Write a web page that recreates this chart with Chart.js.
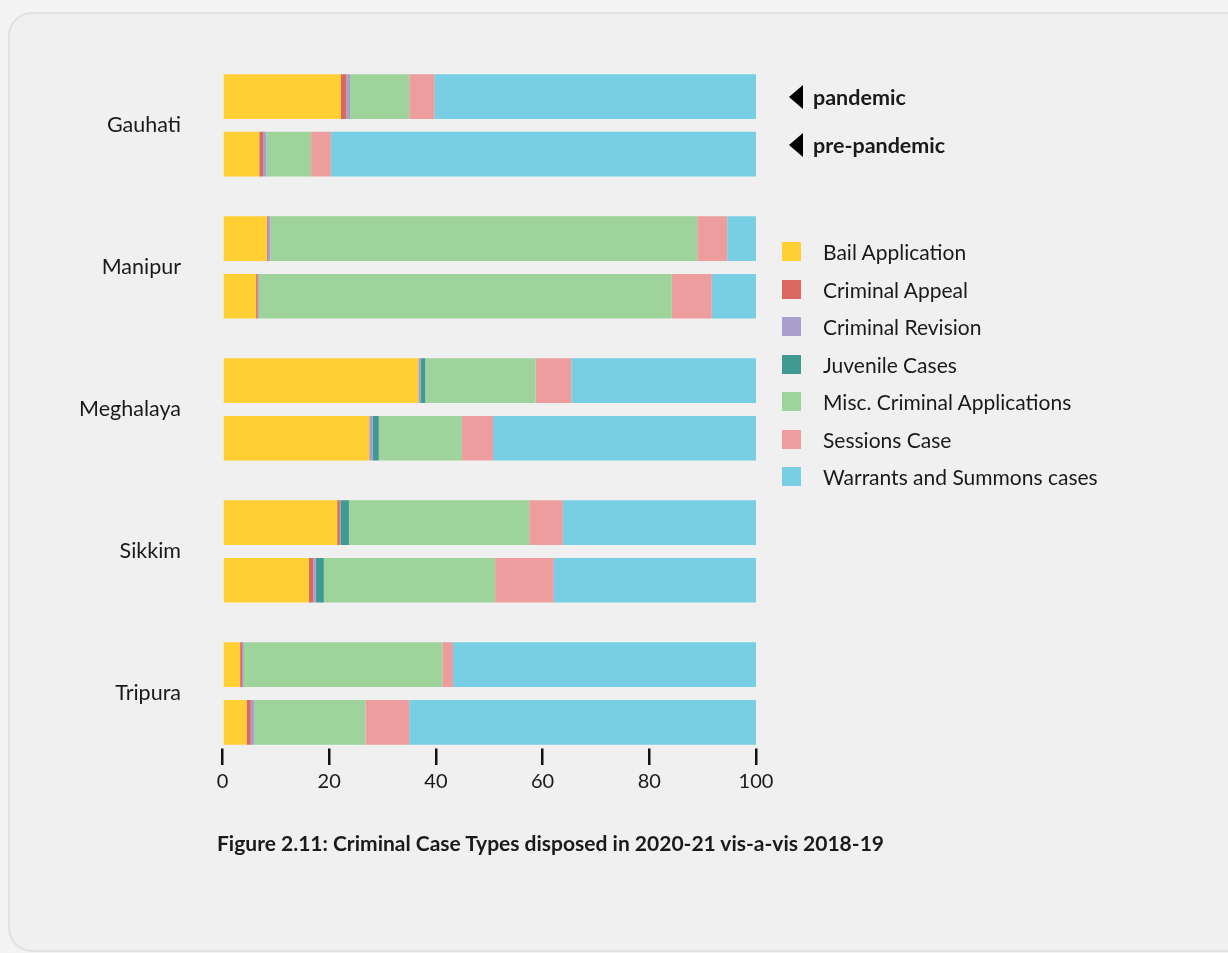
<!DOCTYPE html>
<html>
<head>
<meta charset="utf-8">
<script src="https://cdn.jsdelivr.net/npm/chart.js@4.4.1/dist/chart.umd.min.js"></script>
<style>
  html, body { margin: 0; padding: 0; background: #f4f4f4; font-family: 'Lato', sans-serif; color: #1a1a1a; }
  #wrap { position: relative; width: 1228px; height: 953px; overflow: hidden; }
  #panel { position: absolute; left: 8px; top: 12px; width: 1240px; height: 936px; border: 2px solid #e1e1e1; border-radius: 24px; background: #f0f0f0; }
  #chart1 { position: absolute; left: 0; top: 0; }
  .mark { position: absolute; left: 789px; width: 0; height: 0; border-top: 12px solid transparent; border-bottom: 12px solid transparent; border-right: 14px solid #000; }
  .mark-label { position: absolute; left: 813px; font-weight: bold; font-size: 21.5px; line-height: 24px; }
  #legend { position: absolute; left: 782px; top: 242px; }
  .item { position: relative; height: 37.5px; }
  .box { position: absolute; left: 0; top: 0; width: 19px; height: 19px; }
  .txt { position: absolute; left: 41px; top: -3px; font-size: 21px; line-height: 25px; white-space: nowrap; }
  #caption { position: absolute; left: 217px; top: 831px; font-weight: bold; font-size: 21px; line-height: 24px; white-space: nowrap; }
</style>
</head>
<body>
<div id="wrap">
  <div id="panel"></div>
  <canvas id="chart1" width="1228" height="953"></canvas>
  <div class="mark" style="top:85px"></div>
  <div class="mark-label" style="top:85px">pandemic</div>
  <div class="mark" style="top:133px"></div>
  <div class="mark-label" style="top:133px">pre-pandemic</div>
  <div id="legend"></div>
  <div id="caption">Figure 2.11: Criminal Case Types disposed in 2020-21 vis-a-vis 2018-19</div>
</div>
<script>
// courts on the y axis
const courts = ['Gauhati', 'Manipur', 'Meghalaya', 'Sikkim', 'Tripura'];
const caseTypes = ['Bail Application', 'Criminal Appeal', 'Criminal Revision', 'Juvenile Cases', 'Misc. Criminal Applications', 'Sessions Case', 'Warrants and Summons cases'];
const typeColors = ['#FFCF33', '#DB6860', '#A99FCD', '#419A91', '#9ED39B', '#EE9D9E', '#78CFE3'];
const xTicks = [0, 20, 40, 60, 80, 100];

// share of disposed cases (%), 2020-21 (pandemic)
const bailPandemic = [22.2, 8.3, 36.7, 21.5, 3.3];
const appealPandemic = [1.0, 0.2, 0, 0.5, 0.35];
const revisionPandemic = [0.7, 0.5, 0.4, 0.1, 0.35];
const juvenilePandemic = [0, 0, 0.9, 1.6, 0];
const miscPandemic = [11.1, 80.0, 20.7, 33.8, 37.2];
const sessionsPandemic = [4.7, 5.6, 6.7, 6.3, 2.0];
const warrantsPandemic = [60.3, 5.4, 34.6, 36.2, 56.8];

// share of disposed cases (%), 2018-19 (pre-pandemic)
const bailPre = [6.9, 6.3, 27.5, 16.2, 4.5];
const appealPre = [0.7, 0.3, 0, 0.8, 0.8];
const revisionPre = [0.6, 0.2, 0.7, 0.5, 0.6];
const juvenilePre = [0, 0, 1.1, 1.5, 0];
const miscPre = [8.4, 77.4, 15.6, 32.1, 20.9];
const sessionsPre = [3.7, 7.5, 5.8, 11.0, 8.2];
const warrantsPre = [79.7, 8.3, 49.3, 37.9, 65.0];

const pandemicSeries = [bailPandemic, appealPandemic, revisionPandemic, juvenilePandemic, miscPandemic, sessionsPandemic, warrantsPandemic];
const preSeries = [bailPre, appealPre, revisionPre, juvenilePre, miscPre, sessionsPre, warrantsPre];

Chart.defaults.font.family = 'Lato';
Chart.defaults.color = '#1a1a1a';

// build the datasets: pandemic stack first so it sits on top
const datasets = [];
pandemicSeries.forEach((vals, i) => {
  datasets.push({ label: caseTypes[i], data: vals, stack: 'pandemic', backgroundColor: typeColors[i], borderWidth: 0 });
});
preSeries.forEach((vals, i) => {
  datasets.push({ label: caseTypes[i], data: vals, stack: 'pre', backgroundColor: typeColors[i], borderWidth: 0 });
});

const ctx = document.getElementById('chart1').getContext('2d');
new Chart(ctx, {
  type: 'bar',
  data: { labels: courts, datasets: datasets },
  options: {
    indexAxis: 'y',
    responsive: false,
    animation: false,
    categoryPercentage: 0.811,
    barPercentage: 0.776,
    layout: { padding: { top: 46.5, right: 472, bottom: 0, left: 0 } },
    plugins: { legend: { display: false }, tooltip: { enabled: false } },
    scales: {
      x: {
        stacked: true,
        min: 0,
        max: 100,
        afterBuildTicks: (scale) => { scale.ticks = xTicks.map(v => ({ value: v })); },
        afterFit: (scale) => { scale.height = 188.5; },
        border: { display: false },
        grid: { drawOnChartArea: false, drawTicks: true, tickLength: -16, color: '#111', lineWidth: 2.5 },
        ticks: { padding: 21.5, font: { size: 20 }, color: '#1a1a1a', maxRotation: 0 }
      },
      y: {
        stacked: true,
        afterFit: (scale) => { scale.width = 222.5; },
        border: { display: false },
        grid: { display: false, drawTicks: false },
        ticks: { padding: 41.5, font: { size: 21.5 }, color: '#1a1a1a' }
      }
    }
  }
});

// legend on the right
const legend = document.getElementById('legend');
caseTypes.forEach((name, i) => {
  const item = document.createElement('div');
  item.className = 'item';
  item.innerHTML = '<div class="box" style="background:' + typeColors[i] + '"></div><div class="txt">' + name + '</div>';
  legend.appendChild(item);
});
</script>
</body>
</html>
